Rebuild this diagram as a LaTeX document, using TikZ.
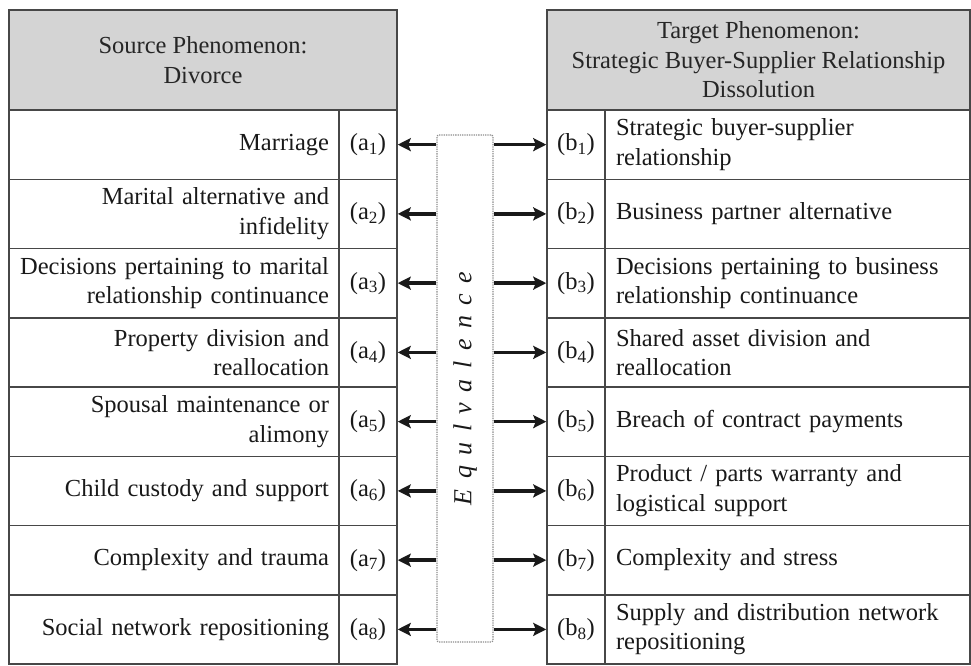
\documentclass[tikz,border=0pt]{standalone}
\usepackage{fontspec}
\setmainfont{Liberation Serif}
\usetikzlibrary{arrows.meta}
\newcommand\dfont{\fontsize{24.5}{29.5}\selectfont}
\newcommand\mysub[1]{\textsubscript{#1}}
\begin{document}
\begin{tikzpicture}[x=1pt,y=-1pt,
  grid/.style={draw=black!72, line width=1.5pt},
  hdr/.style={grid, fill=black!17, minimum height=100pt, align=center, inner sep=0pt, font=\dfont, text=black!85},
  ltext/.style={grid, minimum width=330pt, minimum height=69.25pt, text width=310pt, inner xsep=10pt, inner ysep=0pt, align=right, font=\dfont, text=black!90},
  rtext/.style={grid, minimum width=365pt, minimum height=69.25pt, text width=343pt, inner xsep=11pt, inner ysep=0pt, align=left, font=\dfont, text=black!90},
  lab/.style={grid, minimum width=58pt, minimum height=69.25pt, inner sep=0pt, font=\dfont, text=black!90},
  eqbox/.style={draw=black!45, densely dotted, line width=1.3pt, rounded corners=2pt, minimum width=56pt, minimum height=507pt, inner sep=0pt},
  arr/.style={line width=3.6pt, draw=black!90, -{Stealth[length=13pt,width=13pt,inset=2.5pt]}}
]
\useasboundingbox (0,0) rectangle (971,665);
\node[hdr, minimum width=388pt] (lh) at (203,60) {Source Phenomenon:\\Divorce};
\node[hdr, minimum width=423pt] (rh) at (758.5,60) {Target Phenomenon:\\Strategic Buyer-Supplier Relationship\\Dissolution};
\node[eqbox] (eq) at (465,388.5) {};
\node[rotate=90, font=\fontsize{26}{30}\selectfont\itshape, text=black!90, inner sep=0pt] (eqt) at (eq.center)
  {E\hspace{10.5pt}q\hspace{10.5pt}u\hspace{10.5pt}l\hspace{10.5pt}v\hspace{10.5pt}a\hspace{10.5pt}l\hspace{10.5pt}e\hspace{10.5pt}n\hspace{10.5pt}c\hspace{10.5pt}e};
\foreach \i/\lt/\rt in {
  1/{Marriage}/{Strategic buyer-supplier\\relationship},
  2/{Marital alternative and\\infidelity}/{Business partner alternative},
  3/{Decisions pertaining to marital\\relationship continuance}/{Decisions pertaining to business\\relationship continuance},
  4/{Property division and\\reallocation}/{Shared asset division and\\reallocation},
  5/{Spousal maintenance or\\alimony}/{Breach of contract payments},
  6/{Child custody and support}/{Product / parts warranty and\\logistical support},
  7/{Complexity and trauma}/{Complexity and stress},
  8/{Social network repositioning}/{Supply and distribution network\\repositioning}}{
  \pgfmathsetmacro\yy{110+69.25*(\i-0.5)}
  \node[ltext] (lt\i) at (174,\yy) {\lt};
  \node[lab] (a\i) at (368,\yy) {(a\mysub{\i})};
  \node[lab] (b\i) at (576,\yy) {(b\mysub{\i})};
  \node[rtext] (rt\i) at (787.5,\yy) {\rt};
  \draw[arr] (eq.west |- a\i.east) -- (a\i.east);
  \draw[arr] (eq.east |- b\i.west) -- (b\i.west);
}
\end{tikzpicture}
\end{document}
